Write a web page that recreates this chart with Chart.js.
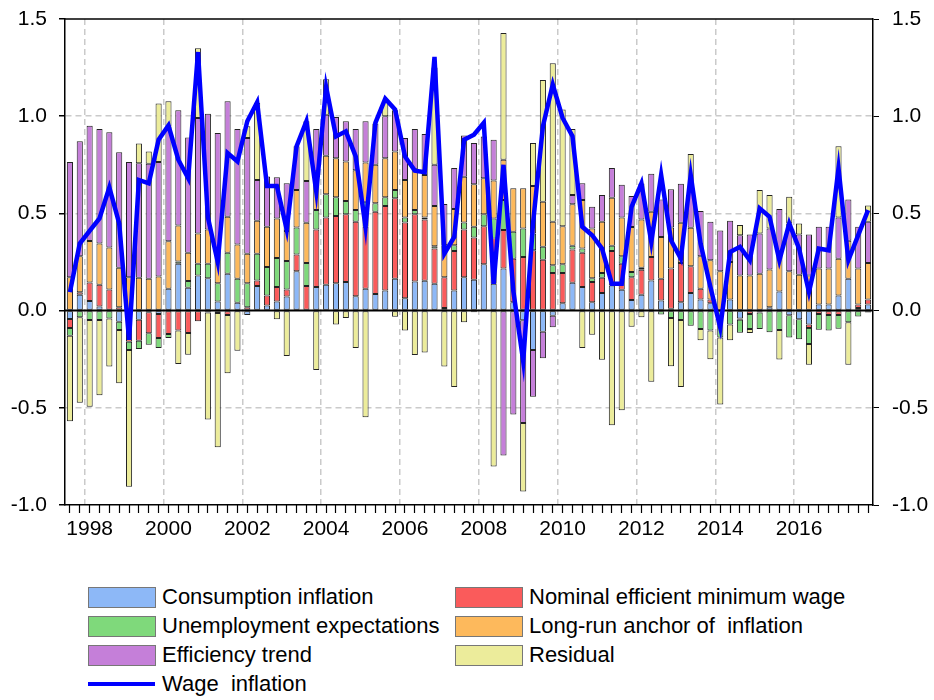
<!DOCTYPE html>
<html>
<head>
<meta charset="utf-8">
<script src="https://cdn.jsdelivr.net/npm/chart.js@4.4.1/dist/chart.umd.min.js"></script>
<style>
  body { margin: 0; background: #fff; font-family: 'Liberation Sans', Arial, sans-serif; }
  #wrap { position: relative; width: 934px; height: 700px; }
  #chart { position: absolute; left: 0; top: 0; }
  .item { position: absolute; height: 22px; font-size: 22px; line-height: 22px; white-space: nowrap; color: #000; }
  .swatch { position: absolute; left: 0; top: 1px; width: 66px; height: 19px; border: 1px solid #777; }
  .stroke { position: absolute; left: 0; top: 9px; width: 67px; height: 4px; }
  .label { position: absolute; left: 74px; top: 0; }
</style>
</head>
<body>
<div id="wrap">
  <canvas id="chart" width="934" height="545"></canvas>
  <div id="legend"></div>
</div>
<script>
// quarters 1997Q3 .. 2017Q4
const quarters = [];
for (let y = 1997; y <= 2017; y++) {
  for (let q = 1; q <= 4; q++) {
    if (y === 1997 && q < 3) continue;
    quarters.push(y + "Q" + q);
  }
}

const consumption = [
  -0.043, 0.081, 0.05, 0.021, 0.0, -0.057, -0.08, -0.047, -0.009, -0.017,
  0.112, 0.241, 0.117, 0.181, 0.167, 0.047, 0.19, 0.04, -0.022, 0.126,
  0.026, 0.047, 0.072, 0.202, 0.0, 0.121, 0.133, 0.141, 0.147, 0.074,
  0.112, 0.086, 0.103, 0.164, 0.064, 0.15, 0.153, 0.138, 0.014, 0.103,
  0.172, 0.159, 0.238, 0.138, 0.216, 0.043, -0.05, -0.203, -0.109, -0.026,
  0.038, 0.143, 0.121, 0.043, 0.091, 0.129, 0.107, 0.055, 0.081, 0.155,
  0.052, 0.009, 0.043, 0.091, 0.057, 0.038, 0.0, 0.057, -0.04, 0.0,
  0.0, 0.017, 0.098, -0.024, -0.045, -0.072, 0.031, 0.031, 0.078, 0.164,
  0.014, 0.031
];
const minWage = [
  -0.047, 0.014, 0.095, 0.112, 0.108, 0.017, -0.08, -0.108, -0.108, -0.124,
  -0.121, -0.103, -0.115, -0.055, -0.01, -0.012, -0.022, 0.0, 0.017, 0.029,
  0.052, 0.074, 0.037, 0.086, 0.126, 0.296, 0.346, 0.345, 0.349, 0.383,
  0.319, 0.422, 0.435, 0.414, 0.389, 0.345, 0.316, 0.181, 0.158, 0.204,
  0.245, 0.217, 0.196, 0.233, 0.198, 0.224, 0.276, 0.31, 0.262, 0.193,
  0.155, 0.171, 0.177, 0.104, 0.078, 0.178, 0.134, 0.117, 0.129, 0.121,
  0.112, 0.207, 0.202, 0.137, 0.055, 0.019, 0.0, 0.0, -0.007, -0.017,
  -0.01, 0.0, 0.0, 0.0, 0.0, -0.017, -0.017, -0.022, -0.022, 0.0,
  0.017, 0.026
];
const unemployment = [
  -0.039, -0.034, -0.048, -0.048, -0.04, -0.043, -0.043, -0.043, -0.059, -0.052,
  -0.02, 0.012, 0.035, 0.06, 0.074, 0.094, 0.108, 0.124, 0.124, 0.138,
  0.146, 0.15, 0.146, 0.139, 0.119, 0.1, 0.119, 0.097, 0.068, 0.06,
  0.129, 0.044, 0.045, 0.043, 0.026, 0.022, 0.01, 0.012, 0.0, 0.029,
  0.036, 0.055, 0.061, 0.103, 0.155, 0.138, 0.146, 0.087, 0.066, 0.04,
  0.045, 0.019, 0.021, 0.02, 0.024, 0.026, 0.038, 0.026, 0.01, 0.0,
  -0.02, -0.038, -0.048, -0.078, -0.095, -0.103, -0.138, -0.072, -0.067, -0.078,
  -0.085, -0.112, -0.1, -0.114, -0.102, -0.083, -0.081, -0.081, -0.072, -0.06,
  -0.03, -0.01
];
const anchor = [
  0.172, 0.184, 0.213, 0.212, 0.217, 0.204, 0.171, 0.169, 0.164, 0.176,
  0.245, 0.185, 0.146, 0.156, 0.176, 0.18, 0.185, 0.176, 0.152, 0.169,
  0.207, 0.203, 0.155, 0.193, 0.207, 0.2, 0.198, 0.201, 0.203, 0.205,
  0.202, 0.198, 0.201, 0.198, 0.193, 0.21, 0.218, 0.207, 0.164, 0.186,
  0.236, 0.219, 0.186, 0.195, 0.207, 0.224, 0.207, 0.244, 0.232, 0.224,
  0.196, 0.214, 0.25, 0.255, 0.264, 0.248, 0.2, 0.232, 0.248, 0.233,
  0.215, 0.212, 0.207, 0.198, 0.168, 0.202, 0.202, 0.193, 0.181, 0.181,
  0.19, 0.195, 0.21, 0.202, 0.184, 0.181, 0.185, 0.185, 0.189, 0.195,
  0.185, 0.188
];
const efficiency = [
  0.592, 0.592, 0.593, 0.589, 0.592, 0.593, 0.593, 0.589, 0.591, 0.588,
  0.591, 0.593, 0.593, 0.594, 0.595, 0.593, 0.594, 0.594, 0.595, 0.21,
  0.259, 0.212, 0.245, 0.225, 0.215, 0.217, 0.212, 0.212, 0.207, 0.212,
  0.212, 0.212, 0.216, 0.212, 0.216, 0.207, 0.212, 0.212, 0.212, 0.211,
  0.212, 0.212, 0.215, 0.21, -0.745, -0.534, -0.528, -0.24, -0.136, -0.06,
  0.0, 0.048, 0.086, 0.112, 0.138, 0.152, 0.168, 0.16, 0.186, 0.195,
  0.193, 0.196, 0.2, 0.198, 0.232, 0.198, 0.21, 0.212, 0.207, 0.21,
  0.207, 0.21, 0.214, 0.246, 0.207, 0.21, 0.215, 0.215, 0.212, 0.213,
  0.215, 0.212
];
const residual = [
  -0.44, -0.44, -0.447, -0.388, -0.248, -0.274, -0.703, 0.102, 0.064, 0.301,
  0.129, -0.172, -0.112, 0.359, -0.55, -0.691, -0.3, -0.207, 0.06, 0.397,
  0.0, -0.045, -0.233, 0.0, 0.307, -0.305, 0.182, -0.072, -0.038, -0.193,
  -0.548, 0.0, 0.077, -0.031, -0.103, -0.228, -0.216, 0.5, -0.288, -0.393,
  -0.06, -0.009, 0.0, -0.802, 0.652, 0.0, -0.353, 0.221, 0.626, 0.815,
  0.6, 0.339, -0.193, -0.124, -0.253, -0.59, -0.512, -0.083, -0.034, -0.366,
  0.0, -0.248, -0.345, 0.181, -0.057, -0.147, -0.345, -0.08, 0.052, -0.02,
  0.224, 0.173, -0.152, 0.138, 0.057, -0.106, 0.0, 0.0, 0.366, -0.219,
  0.0, 0.084
];
const wageInflation = [
  0.095, 0.345, 0.41, 0.474, 0.634, 0.448, -0.15, 0.672, 0.655, 0.879,
  0.952, 0.776, 0.681, 1.33, 0.48, 0.25, 0.81, 0.767, 0.974, 1.072,
  0.641, 0.641, 0.417, 0.845, 0.974, 0.612, 1.15, 0.896, 0.922, 0.793,
  0.431, 0.966, 1.09, 1.034, 0.793, 0.72, 0.712, 1.305, 0.293, 0.379,
  0.879, 0.905, 0.966, 0.138, 0.75, 0.1, -0.26, 0.45, 0.948, 1.163,
  0.991, 0.897, 0.431, 0.388, 0.319, 0.138, 0.138, 0.534, 0.655, 0.353,
  0.698, 0.362, 0.267, 0.698, 0.345, 0.121, -0.088, 0.302, 0.328, 0.259,
  0.526, 0.483, 0.259, 0.448, 0.319, 0.095, 0.319, 0.31, 0.733, 0.259,
  0.388, 0.517
];

const barSeries = [
  { name: "Consumption inflation", data: consumption, color: "#8db8f7" },
  { name: "Nominal efficient minimum wage", data: minWage, color: "#fa5b5b" },
  { name: "Unemployment expectations", data: unemployment, color: "#7fd97b" },
  { name: "Long-run anchor of  inflation", data: anchor, color: "#fdb95c" },
  { name: "Efficiency trend", data: efficiency, color: "#c57fd9" },
  { name: "Residual", data: residual, color: "#ecec9b" },
];
const lineName = "Wage  inflation";
const lineColor = "#0000ff";

const isMajor = (lab) => lab && lab.endsWith("Q1") && (+lab.slice(0, 4)) % 2 === 0;

// fixed axis sizes, no extra label overflow padding
const fixSize = (w, h) => (s) => {
  if (w !== null) s.width = w;
  if (h !== null) s.height = h;
  s.paddingTop = 0;
  s.paddingBottom = 0;
  s.paddingLeft = 0;
  s.paddingRight = 0;
};

Chart.defaults.font.family = "'Liberation Sans', Arial, sans-serif";
Chart.defaults.font.size = 21;
Chart.defaults.color = "#000";

const datasets = barSeries.map((s) => ({
  type: "bar",
  label: s.name,
  data: s.data,
  backgroundColor: s.color,
  borderColor: "#222",
  borderWidth: 1,
  borderSkipped: false,
  barPercentage: 0.62,
  categoryPercentage: 1,
  order: 1,
}));
datasets.push({
  type: "line",
  label: lineName,
  data: wageInflation,
  borderColor: lineColor,
  borderWidth: 4.5,
  pointRadius: 0,
  tension: 0,
  fill: false,
  order: 0,
});

const lineIndex = datasets.length - 1;

// zero line over the bars, under the wage line; top frame line
const framePlugin = {
  id: "frame",
  beforeDatasetDraw(chart, args) {
    if (args.index !== lineIndex) return;
    const { ctx, chartArea } = chart;
    const y0 = chart.scales.y.getPixelForValue(0);
    ctx.save();
    ctx.strokeStyle = "#000";
    ctx.lineWidth = 2;
    ctx.beginPath();
    ctx.moveTo(chartArea.left, y0);
    ctx.lineTo(chartArea.right, y0);
    ctx.stroke();
    ctx.restore();
  },
  afterDraw(chart) {
    const { ctx, chartArea } = chart;
    ctx.save();
    ctx.strokeStyle = "#000";
    ctx.lineWidth = 1.5;
    ctx.beginPath();
    ctx.moveTo(chartArea.left, chartArea.top);
    ctx.lineTo(chartArea.right, chartArea.top);
    ctx.stroke();
    ctx.restore();
  },
};

const yTicks = {
  stepSize: 0.5,
  callback: (v) => v.toFixed(1),
};

new Chart(document.getElementById("chart"), {
  data: { labels: quarters, datasets: datasets },
  plugins: [framePlugin],
  options: {
    responsive: false,
    animation: false,
    layout: { autoPadding: false, padding: { top: 19, left: 0, right: 0, bottom: 0 } },
    plugins: { legend: { display: false }, tooltip: { enabled: false } },
    scales: {
      x: {
        type: "category",
        stacked: true,
        offset: true,
        ticks: { display: false, autoSkip: false },
        grid: {
          offset: true,
          drawTicks: false,
          lineWidth: 1.5,
          color: (c) => (isMajor(quarters[c.index]) ? "#cacaca" : "rgba(0,0,0,0)"),
        },
        border: { display: true, color: "#000", width: 1.5, dash: [6, 4] },
        afterFit: fixSize(null, 0),
      },
      x2: {
        type: "category",
        position: "bottom",
        offset: true,
        weight: 1,
        ticks: {
          autoSkip: false,
          maxRotation: 0,
          minRotation: 0,
          padding: 4,
          callback: (v, i) => (isMajor(quarters[i]) ? quarters[i].slice(0, 4) : ""),
        },
        grid: {
          drawOnChartArea: false,
          drawTicks: true,
          tickLength: 8,
          tickColor: "#000",
          tickWidth: 1.2,
        },
        border: { display: false },
        afterFit: fixSize(null, 40),
      },
      y: {
        position: "left",
        stacked: true,
        min: -1,
        max: 1.5,
        ticks: Object.assign({ padding: 12 }, yTicks),
        grid: {
          lineWidth: 1.5,
          tickLength: 6,
          tickColor: "#000",
          color: (c) => {
            const v = c.tick ? c.tick.value : null;
            return v === -0.5 || v === 0.5 || v === 1 ? "#cacaca" : "rgba(0,0,0,0)";
          },
        },
        border: { display: true, color: "#000", width: 1.5, dash: [6, 4] },
        afterFit: fixSize(65, null),
      },
      y2: {
        position: "right",
        min: -1,
        max: 1.5,
        ticks: Object.assign({ padding: 13 }, yTicks),
        grid: { drawOnChartArea: false, tickLength: 6, tickColor: "#000" },
        border: { display: true, color: "#000", width: 1.5 },
        afterFit: fixSize(61, null),
      },
    },
  },
});

// legend below the chart
const legend = document.getElementById("legend");
const colX = [88, 455];
const rowY = [586, 615, 644, 673];
const legendItems = [
  { s: barSeries[0], col: 0, row: 0 },
  { s: barSeries[1], col: 1, row: 0 },
  { s: barSeries[2], col: 0, row: 1 },
  { s: barSeries[3], col: 1, row: 1 },
  { s: barSeries[4], col: 0, row: 2 },
  { s: barSeries[5], col: 1, row: 2 },
  { s: { name: lineName, color: lineColor, line: true }, col: 0, row: 3 },
];
legendItems.forEach((it) => {
  const d = document.createElement("div");
  d.className = "item";
  d.style.left = colX[it.col] + "px";
  d.style.top = rowY[it.row] + "px";
  const mark = document.createElement("div");
  mark.className = it.s.line ? "stroke" : "swatch";
  mark.style.background = it.s.color;
  const t = document.createElement("div");
  t.className = "label";
  t.textContent = it.s.name.replace(/ /g, "\u00a0");
  d.appendChild(mark);
  d.appendChild(t);
  legend.appendChild(d);
});
</script>
</body>
</html>
